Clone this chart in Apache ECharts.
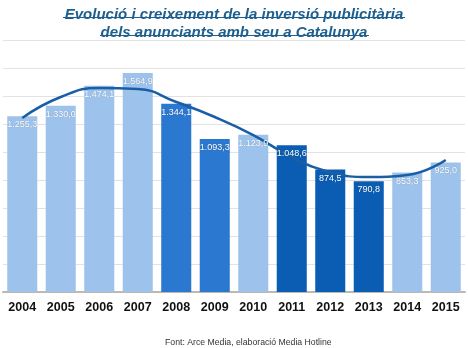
<!DOCTYPE html>
<html><head><meta charset="utf-8">
<script src="https://cdn.jsdelivr.net/npm/echarts@6/dist/echarts.min.js"></script>
<style>html,body{margin:0;padding:0;background:#fff}#c{width:468px;height:348px}</style>
</head><body><div id="c"></div>
<script>
const years = ['2004','2005','2006','2007','2008','2009','2010','2011','2012','2013','2014','2015'];
const values = [1255.3,1330.0,1474.1,1564.9,1344.1,1093.3,1123.9,1048.6,874.5,790.8,853.3,925.0];
const shade = ['l','l','l','l','m','m','l','d','d','d','l','l'];
const trend = [1243,1393,1457,1450,1357,1250,1121,964,857,821,836,943];
const titleLines = ['Evolució i creixement de la inversió publicitària','dels anunciants amb seu a Catalunya'];
const source = 'Font: Arce Media, elaboració Media Hotline';
const colorMap = {l:'#9dc3ec', m:'#2b78d0', d:'#0a5db3'};

const fmt2 = v => { const p = v.toFixed(1).split('.'); const i = p[0].replace(/\B(?=(\d{3})+(?!\d))/g, '.'); return i + ',' + p[1]; };

const chart = echarts.init(document.getElementById('c'));
chart.setOption({
  animation:false,
  title:[{text:titleLines.join('\n'), left:'center', top:1,
    textStyle:{fontFamily:'Liberation Sans, Arial', fontSize:15, fontStyle:'italic', fontWeight:'bold', color:'#1d5f8e', lineHeight:18}},
    {text:source, left:160, top:333, textStyle:{fontFamily:'Liberation Sans, Arial', fontSize:8.7, fontWeight:'normal', color:'#333'}}],
  graphic:[
    {type:'line', shape:{x1:63,y1:17.5,x2:405,y2:17.5}, style:{stroke:'#1d5f8e', lineWidth:1.2}},
    {type:'line', shape:{x1:100,y1:35.5,x2:369,y2:35.5}, style:{stroke:'#1d5f8e', lineWidth:1.2}}
  ],
  grid:{left:3, right:3, top:40, bottom:56, containLabel:false},
  xAxis:{type:'category', data:years,
    axisLine:{lineStyle:{color:'#bdb8b2', width:2}}, axisTick:{show:false},
    axisLabel:{color:'#111', fontWeight:'bold', fontSize:12.5, fontFamily:'Liberation Sans, Arial', margin:9}},
  yAxis:{type:'value', min:0, max:1800, interval:200, axisLabel:{show:false}, axisLine:{show:false}, axisTick:{show:false},
    splitLine:{lineStyle:{color:'#e2e2e2', width:1}}},
  series:[
    {type:'bar', data:values.map((v,i)=>({value:v, itemStyle:{color:colorMap[shade[i]]}})),
     barCategoryGap:'22%', z:2},
    {type:'line', data:trend, smooth:0.5, symbol:'none', lineStyle:{color:'#1a5ea6', width:2.5}, z:5},
    {type:'bar', data:values, barGap:'-100%', barCategoryGap:'22%', itemStyle:{color:'rgba(0,0,0,0)'}, z:8, silent:true,
     label:{show:true, position:'insideTop', distance:4, color:'#fff', fontSize:9,
       fontFamily:'Liberation Sans, Arial, sans-serif',
       formatter:p=>fmt2(p.value), textShadowColor:'rgba(0,0,0,0.3)', textShadowBlur:1}}
  ]
});
</script></body></html>
